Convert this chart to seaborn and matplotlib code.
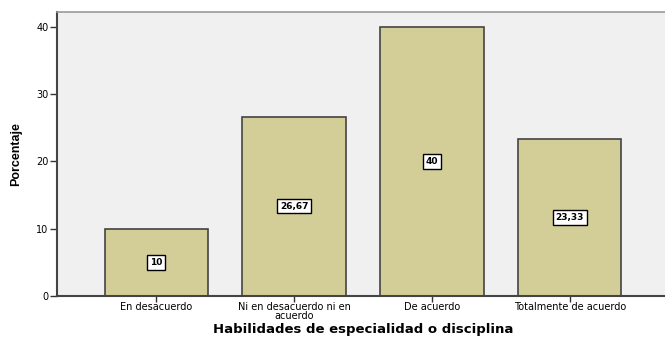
import numpy as np
import pandas as pd
import seaborn as sns
import matplotlib.pyplot as plt

categories = ["En desacuerdo", "Ni en desacuerdo ni en\nacuerdo", "De acuerdo", "Totalmente de acuerdo"]
porcentaje = [10, 26.67, 40, 23.33]
etiquetas = ["10", "26,67", "40", "23,33"]

df = pd.DataFrame({"cat": categories, "pct": porcentaje})

sns.set_theme(style="white")
plt.rcParams["font.family"] = ["DejaVu Sans"]
plt.rcParams["text.color"] = "black"
plt.rcParams["xtick.color"] = "black"
plt.rcParams["ytick.color"] = "black"
plt.rcParams["axes.labelcolor"] = "black"

fig = plt.figure(figsize=(6.65, 3.39), dpi=100)
ax = fig.add_axes([57 / 665, 43 / 339, 1 - 57 / 665 + 0.01, 284 / 339])
ax.set_facecolor("#F0F0F0")

sns.barplot(data=df, x="cat", y="pct", color="#D3CD97", saturation=1,
            width=0.75, edgecolor="#444444", linewidth=1.2, ax=ax)

for i, (v, lab) in enumerate(zip(porcentaje, etiquetas)):
    ax.text(i, v / 2, lab, ha="center", va="center", fontsize=6.5, fontweight="bold",
            bbox=dict(boxstyle="square,pad=0.3", fc="white", ec="black", lw=1))

ax.set_ylim(0, 42.2)
ax.set_xlim(-0.72, 3.74)
ax.set_yticks([0, 10, 20, 30, 40])
ax.tick_params(axis="both", which="both", direction="out", length=5, width=1,
               color="#333333", labelsize=7, pad=1, left=True, bottom=True)
ax.tick_params(axis="x", length=4, pad=0.5)

for s in ["left", "bottom"]:
    ax.spines[s].set_color("#444444")
    ax.spines[s].set_linewidth(1.5)
ax.spines["top"].set_color("#999999")
ax.spines["top"].set_linewidth(1.2)
ax.spines["right"].set_visible(False)

ax.set_xlabel("")
fig.text(363 / 665, 1 - 329 / 339, "Habilidades de especialidad o disciplina",
         ha="center", va="center", fontsize=9.5, fontweight="bold")
ax.set_ylabel("Porcentaje", fontsize=9, fontweight="bold", labelpad=10,
              family=["Liberation Sans"])

for lab in ax.get_xticklabels():
    lab.set_linespacing(0.85)

fig.savefig("out.png", dpi=100)
